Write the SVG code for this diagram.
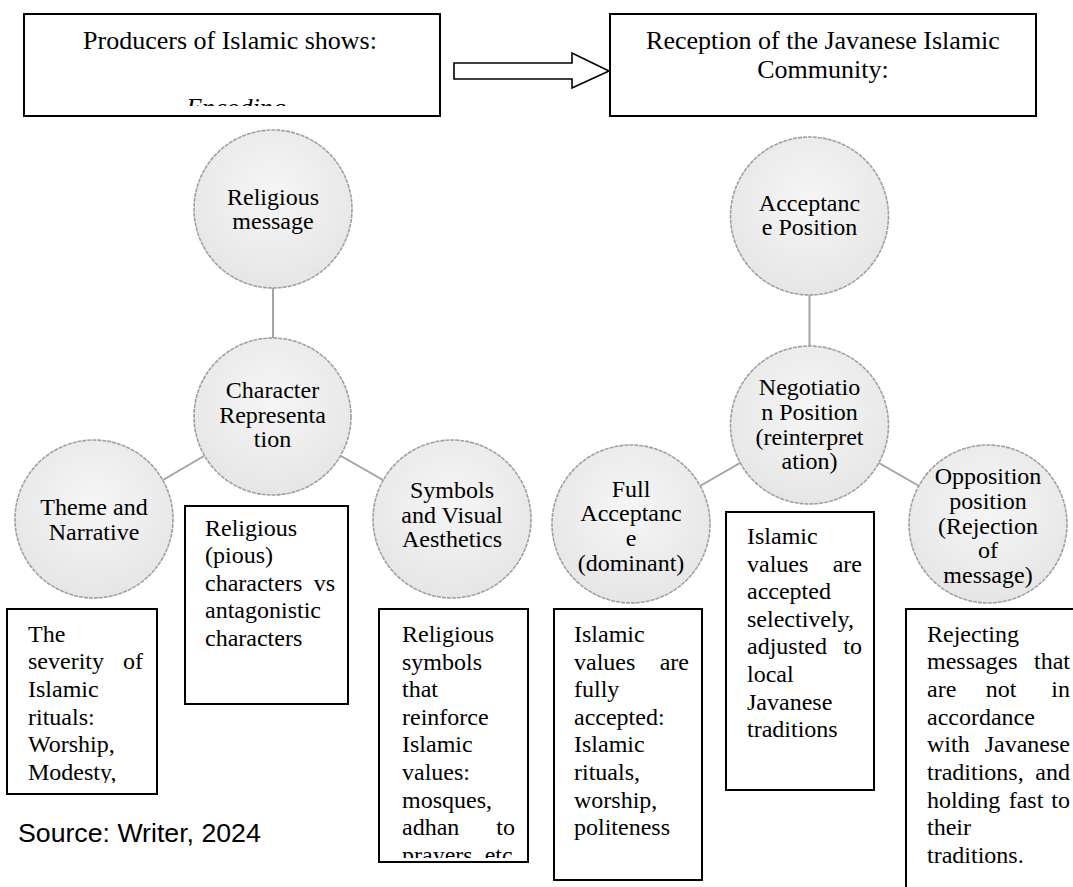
<svg xmlns="http://www.w3.org/2000/svg" width="1073" height="887" viewBox="0 0 1073 887">
  <defs>
    <radialGradient id="cg" cx="50%" cy="40%" r="60%">
      <stop offset="0" stop-color="#f6f6f6"/>
      <stop offset="1" stop-color="#e6e6e6"/>
    </radialGradient>
    <clipPath id="clipEnc"><rect x="24" y="14" width="416" height="92"/></clipPath>
    <clipPath id="clipB1"><rect x="7" y="609" width="150" height="174"/></clipPath>
    <clipPath id="clipB3"><rect x="379" y="609" width="149" height="249"/></clipPath>
  </defs>
  <style>
    .bg { fill: #ffffff; }
    .box { fill: #ffffff; stroke: #000000; stroke-width: 2; }
    .circ { fill: url(#cg); stroke: #a0a0a0; stroke-width: 1.6; stroke-dasharray: 4 1; }
    .conn { stroke: #a3a3a3; stroke-width: 2; fill: none; }
    .arrow { fill: #ffffff; stroke: #000000; stroke-width: 1.6; stroke-linejoin: miter; }
    text { font-family: "Liberation Serif", "Times New Roman", serif; fill: #000000; }
    .t26 { font-size: 26px; }
    .t24 { font-size: 24px; }
    .ctr { text-anchor: middle; }
    .end { text-anchor: end; }
    .src { font-family: "Liberation Sans", Arial, sans-serif; font-size: 26.7px; }
  </style>

  <rect class="bg" x="0" y="0" width="1073" height="887"/>

  <!-- Top boxes -->
  <g id="producers">
    <rect class="box" x="24" y="14" width="416" height="102"/>
    <text class="t26 ctr" x="230" y="49">Producers of Islamic shows:</text>
    <g clip-path="url(#clipEnc)">
      <text class="t26 ctr" x="236" y="116" font-style="italic">Encoding</text>
    </g>
  </g>

  <g id="reception">
    <rect class="box" x="610" y="14" width="426" height="102"/>
    <text class="t26 ctr" x="823" y="49">Reception of the Javanese Islamic</text>
    <text class="t26 ctr" x="823" y="78">Community:</text>
  </g>

  <g id="flow-arrow">
    <polygon class="arrow" points="454,63 572,63 572,53 609,71 572,88 572,79 454,79"/>
  </g>

  <!-- Connectors -->
  <g id="connectors">
    <line class="conn" x1="273" y1="288" x2="273" y2="338"/>
    <line class="conn" x1="204" y1="456" x2="163" y2="480"/>
    <line class="conn" x1="341" y1="456" x2="383" y2="480"/>
    <line class="conn" x1="809.5" y1="295" x2="809.5" y2="346"/>
    <line class="conn" x1="740" y1="463" x2="700" y2="486"/>
    <line class="conn" x1="879" y1="463" x2="919" y2="486"/>
  </g>

  <!-- Left group circles -->
  <g id="religious-message">
    <circle class="circ" cx="273" cy="209" r="79"/>
    <text class="t24 ctr" x="273" y="205">Religious</text>
    <text class="t24 ctr" x="273" y="229">message</text>
  </g>
  <g id="character-representation">
    <circle class="circ" cx="272.5" cy="416.5" r="78.5"/>
    <text class="t24 ctr" x="272.5" y="398">Character</text>
    <text class="t24 ctr" x="272.5" y="423">Representa</text>
    <text class="t24 ctr" x="272.5" y="447">tion</text>
  </g>
  <g id="theme-narrative">
    <circle class="circ" cx="94" cy="519" r="79"/>
    <text class="t24 ctr" x="94" y="515">Theme and</text>
    <text class="t24 ctr" x="94" y="540">Narrative</text>
  </g>
  <g id="symbols-visual">
    <circle class="circ" cx="452" cy="519" r="79"/>
    <text class="t24 ctr" x="452" y="498">Symbols</text>
    <text class="t24 ctr" x="452" y="523">and Visual</text>
    <text class="t24 ctr" x="452" y="547">Aesthetics</text>
  </g>

  <!-- Right group circles -->
  <g id="acceptance-position">
    <circle class="circ" cx="809.5" cy="216" r="79"/>
    <text class="t24 ctr" x="809.5" y="211">Acceptanc</text>
    <text class="t24 ctr" x="809.5" y="235">e Position</text>
  </g>
  <g id="negotiation-position">
    <circle class="circ" cx="809.5" cy="425" r="79"/>
    <text class="t24 ctr" x="809.5" y="395">Negotiatio</text>
    <text class="t24 ctr" x="809.5" y="420">n Position</text>
    <text class="t24 ctr" x="809.5" y="445">(reinterpret</text>
    <text class="t24 ctr" x="809.5" y="469">ation)</text>
  </g>
  <g id="full-acceptance">
    <circle class="circ" cx="631" cy="524" r="79"/>
    <text class="t24 ctr" x="631" y="497">Full</text>
    <text class="t24 ctr" x="631" y="521">Acceptanc</text>
    <text class="t24 ctr" x="631" y="546">e</text>
    <text class="t24 ctr" x="631" y="571">(dominant)</text>
  </g>
  <g id="opposition-position">
    <circle class="circ" cx="988" cy="524" r="79"/>
    <text class="t24 ctr" x="988" y="484">Opposition</text>
    <text class="t24 ctr" x="988" y="509">position</text>
    <text class="t24 ctr" x="988" y="534">(Rejection</text>
    <text class="t24 ctr" x="988" y="558">of</text>
    <text class="t24 ctr" x="988" y="583">message)</text>
  </g>

  <!-- Left description boxes -->
  <g id="box-severity">
    <rect class="box" x="7" y="609" width="150" height="185"/>
    <g clip-path="url(#clipB1)">
      <text class="t24" x="28" y="642">The</text>
      <text class="t24" x="28" y="669">severity</text>
      <text class="t24 end" x="143" y="669">of</text>
      <text class="t24" x="28" y="697">Islamic</text>
      <text class="t24" x="28" y="725">rituals:</text>
      <text class="t24" x="28" y="752">Worship,</text>
      <text class="t24" x="28" y="780">Modesty,</text>
    </g>
  </g>

  <g id="box-pious">
    <rect class="box" x="185" y="506" width="163" height="198"/>
    <text class="t24" x="205" y="536">Religious</text>
    <text class="t24" x="205" y="563">(pious)</text>
    <text class="t24" x="205" y="591">characters</text>
    <text class="t24 end" x="335" y="591">vs</text>
    <text class="t24" x="205" y="618">antagonistic</text>
    <text class="t24" x="205" y="646">characters</text>
  </g>

  <g id="box-symbols">
    <rect class="box" x="379" y="609" width="149" height="253"/>
    <g clip-path="url(#clipB3)">
      <text class="t24" x="402" y="642">Religious</text>
      <text class="t24" x="402" y="670">symbols</text>
      <text class="t24" x="402" y="697">that</text>
      <text class="t24" x="402" y="725">reinforce</text>
      <text class="t24" x="402" y="752">Islamic</text>
      <text class="t24" x="402" y="780">values:</text>
      <text class="t24" x="402" y="808">mosques,</text>
      <text class="t24" x="402" y="835">adhan</text>
      <text class="t24 end" x="515" y="835">to</text>
      <text class="t24" x="402" y="863">prayers, etc.</text>
    </g>
  </g>

  <!-- Right description boxes -->
  <g id="box-full">
    <rect class="box" x="554" y="609" width="148" height="271"/>
    <text class="t24" x="574" y="642">Islamic</text>
    <text class="t24" x="574" y="670">values</text>
    <text class="t24 end" x="689" y="670">are</text>
    <text class="t24" x="574" y="697">fully</text>
    <text class="t24" x="574" y="725">accepted:</text>
    <text class="t24" x="574" y="752">Islamic</text>
    <text class="t24" x="574" y="780">rituals,</text>
    <text class="t24" x="574" y="808">worship,</text>
    <text class="t24" x="574" y="835">politeness</text>
  </g>

  <g id="box-negotiation">
    <rect class="box" x="726" y="512" width="148" height="278"/>
    <text class="t24" x="747" y="544">Islamic</text>
    <text class="t24" x="747" y="572">values</text>
    <text class="t24 end" x="862" y="572">are</text>
    <text class="t24" x="747" y="599">accepted</text>
    <text class="t24" x="747" y="627">selectively,</text>
    <text class="t24" x="747" y="654">adjusted</text>
    <text class="t24 end" x="862" y="654">to</text>
    <text class="t24" x="747" y="682">local</text>
    <text class="t24" x="747" y="710">Javanese</text>
    <text class="t24" x="747" y="737">traditions</text>
  </g>

  <g id="box-rejecting">
    <rect class="box" x="906" y="609" width="180" height="300"/>
    <text class="t24" x="927" y="642">Rejecting</text>
    <text class="t24" x="927" y="669">messages</text>
    <text class="t24 end" x="1070" y="669">that</text>
    <text class="t24" x="927" y="697">are</text>
    <text class="t24 ctr" x="1001" y="697">not</text>
    <text class="t24 end" x="1070" y="697">in</text>
    <text class="t24" x="927" y="725">accordance</text>
    <text class="t24" x="927" y="752">with</text>
    <text class="t24 end" x="1070" y="752">Javanese</text>
    <text class="t24" x="927" y="780">traditions,</text>
    <text class="t24 end" x="1070" y="780">and</text>
    <text class="t24" x="927" y="808">holding</text>
    <text class="t24 ctr" x="1026" y="808">fast</text>
    <text class="t24 end" x="1070" y="808">to</text>
    <text class="t24" x="927" y="835">their</text>
    <text class="t24" x="927" y="863">traditions.</text>
  </g>

  <g id="source">
    <text class="src" x="18" y="842">Source: Writer, 2024</text>
  </g>
</svg>
